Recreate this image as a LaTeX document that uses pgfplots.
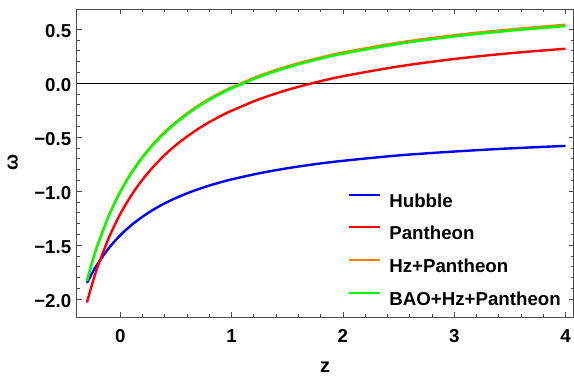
\documentclass[border=0pt]{standalone}
\usepackage{fontspec}
\setmainfont{Liberation Sans}
\usepackage{pgfplots}
\pgfplotsset{compat=1.18}
\definecolor{mblue}{rgb}{0,0,1}
\definecolor{mred}{rgb}{1,0,0}
\definecolor{morange}{rgb}{1,0.5,0}
\definecolor{mgreen}{rgb}{0,1,0}
\begin{document}
\fontsize{18.7bp}{22bp}\selectfont\bfseries
\begin{tikzpicture}
\path[use as bounding box] (-76.7bp,-59.7bp) rectangle (497.3bp,317.3bp);
\begin{axis}[
  scale only axis, width=496.8bp, height=308bp,
  xmin=-0.392, xmax=4.072, ymin=-2.167, ymax=0.685,
  xtick={0,1,2,3,4}, xticklabels={0,1,2,3,4},
  ytick={-2,-1.5,-1,-0.5,0,0.5},
  yticklabels={−2.0,−1.5,−1.0,−0.5,0.0,0.5},
  minor x tick num=4, minor y tick num=4,
  tick align=inside, major tick length=5bp, minor tick length=3bp,
  axis line style={black!70, line width=0.8bp},
  every tick/.style={black!70, line width=0.8bp},
  xticklabel style={anchor=base, yshift=-25.3bp, inner sep=0pt, font=\fontsize{18.7bp}{22bp}\selectfont\bfseries},
  yticklabel style={anchor=east, xshift=-5.3bp, yshift=-1.5bp, inner sep=0pt, font=\fontsize{18.7bp}{22bp}\selectfont\bfseries},
  xlabel={z},
  xlabel style={at={(axis description cs:0.5,-0.178)}, anchor=base, inner sep=0pt, font=\fontsize{20bp}{22bp}\selectfont\bfseries},
  ylabel={ω},
  ylabel style={at={(axis description cs:-0.129,0.504)}, anchor=center, inner sep=0pt, font=\fontsize{19bp}{22bp}\selectfont\bfseries},
  legend cell align=left,
  legend image code/.code={\draw[#1, line width=2bp] (0bp,5.7bp) -- (31.6bp,5.7bp);},
  legend style={draw=none, fill=none, inner sep=0pt, outer sep=0pt,
    at={(axis description cs:0.5456,0.401)}, anchor=north west,
    row sep=19.3bp,
    nodes={inner sep=0pt, text height=13.4bp, text depth=0bp, font=\fontsize{18.7bp}{22bp}\selectfont\bfseries},
    /tikz/every odd column/.append style={column sep=8bp}},
]
\addplot[black, line width=0.8bp, forget plot] coordinates {(-0.392,0) (4.072,0)};
\addplot[mblue, line width=2.4bp, smooth] coordinates {
(-0.3,-1.850) (-0.25,-1.752) (-0.2,-1.666) (-0.1,-1.522) (0,-1.407) (0.1,-1.313)
(0.2,-1.235) (0.3,-1.168) (0.4,-1.111) (0.5,-1.062) (0.6,-1.019) (0.7,-0.981)
(0.8,-0.947) (0.9,-0.917) (1,-0.890) (1.25,-0.833) (1.5,-0.787) (1.75,-0.749)
(2,-0.718) (2.5,-0.668) (3,-0.632) (3.5,-0.603) (4,-0.580)};
\addlegendentry{Hubble}
\addplot[mred, line width=2.4bp, smooth] coordinates {
(-0.3,-2.030) (-0.25,-1.848) (-0.2,-1.688) (-0.1,-1.423) (0,-1.210) (0.1,-1.036)
(0.2,-0.891) (0.3,-0.769) (0.4,-0.663) (0.5,-0.572) (0.6,-0.493) (0.7,-0.422)
(0.8,-0.360) (0.9,-0.304) (1,-0.254) (1.25,-0.147) (1.5,-0.062) (1.75,0.007)
(2,0.065) (2.5,0.156) (3,0.225) (3.5,0.278) (4,0.320)};
\addlegendentry{Pantheon}
\addplot[morange, line width=2.4bp, smooth] coordinates {
(-0.3,-1.827) (-0.25,-1.644) (-0.2,-1.483) (-0.1,-1.215) (0,-1.001) (0.1,-0.826)
(0.2,-0.680) (0.3,-0.557) (0.4,-0.449) (0.5,-0.359) (0.6,-0.278) (0.7,-0.207)
(0.8,-0.144) (0.9,-0.088) (1,-0.038) (1.25,0.070) (1.5,0.156) (1.75,0.226)
(2,0.285) (2.5,0.376) (3,0.445) (3.5,0.498) (4,0.542)};
\addlegendentry{Hz+Pantheon}
\addplot[mgreen, line width=2.4bp, smooth] coordinates {
(-0.3,-1.830) (-0.25,-1.647) (-0.2,-1.487) (-0.1,-1.220) (0,-1.007) (0.1,-0.832)
(0.2,-0.687) (0.3,-0.564) (0.4,-0.458) (0.5,-0.367) (0.6,-0.287) (0.7,-0.216)
(0.8,-0.153) (0.9,-0.097) (1,-0.047) (1.25,0.060) (1.5,0.146) (1.75,0.216)
(2,0.274) (2.5,0.365) (3,0.434) (3.5,0.487) (4,0.530)};
\addlegendentry{BAO+Hz+Pantheon}
\end{axis}
\end{tikzpicture}
\end{document}
